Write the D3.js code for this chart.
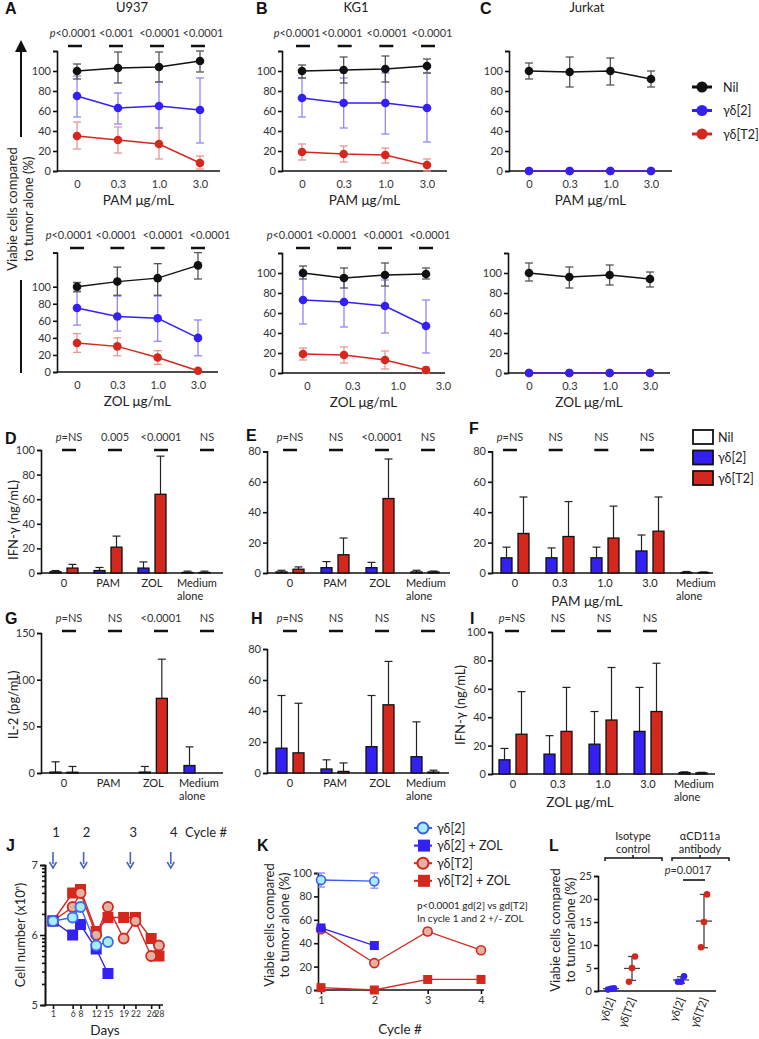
<!DOCTYPE html>
<meta charset="utf-8">
<style>
  body { margin: 0; background: #fff; }
  svg text { font-family: Lato, "Open Sans", sans-serif; fill: #222; }
  .axis text { font-size: 11px; fill: #333; font-family: Lato, "Open Sans", sans-serif; }
  .axis .domain, .axis line { stroke: #111; stroke-width: 1.6; }
  .letter { font-family: "Liberation Sans", Arial, sans-serif; font-weight: bold; font-size: 16px; fill: #111; }
  .title { font-size: 13px; }
  .xtitle { font-size: 13.5px; }
  .ylab { font-size: 13px; }
  .pv { font-size: 11px; fill: #333; }
  .leg { font-size: 12.5px; }
  .jdays text { font-size: 8.5px; }
</style>
<body>
<div id="chart"></div>
</body>
<script src="https://d3js.org/d3.v7.min.js"></script>
<script>
// ---- data ----
const doses = ["0", "0.3", "1.0", "3.0"];
const lineNames = ["Nil", "γδ[2]", "γδ[T2]"];
// [mean, low, high] per dose
const u937PamNil = [[100, 92, 107], [103, 88, 119], [104, 89, 119], [110, 99, 120]];
const u937PamG2 = [[75, 54, 95], [63, 47, 78], [65, 43, 89], [61, 28, 93]];
const u937PamT2 = [[35, 22, 49], [31, 18, 44], [27, 12, 43], [8, 2, 15]];
const kg1PamNil = [[100, 93, 106], [101, 88, 114], [102, 89, 115], [105, 98, 112]];
const kg1PamG2 = [[73, 54, 93], [68, 43, 93], [68, 37, 98], [63, 29, 98]];
const kg1PamT2 = [[19, 11, 27], [17, 9, 25], [16, 8, 23], [6, 0, 12]];
const jurPamNil = [[100, 92, 108], [99, 84, 114], [100, 86, 113], [92, 84, 100]];
const jurPamG2 = [[0, 0, 0], [0, 0, 0], [0, 0, 0], [0, 0, 0]];
const jurPamT2 = [[0, 0, 0], [0, 0, 0], [0, 0, 0], [0, 0, 0]];
const u937ZolNil = [[100, 94, 105], [106, 90, 123], [110, 90, 127], [125, 109, 140]];
const u937ZolG2 = [[75, 55, 95], [65, 48, 89], [63, 36, 89], [40, 19, 61]];
const u937ZolT2 = [[34, 23, 45], [30, 19, 40], [17, 9, 25], [1.5, 1.5, 1.5]];
const kg1ZolNil = [[100, 94, 107], [95, 85, 105], [98, 87, 110], [99, 94, 105]];
const kg1ZolG2 = [[73, 49, 97], [71, 46, 97], [67, 40, 93], [47, 20, 73]];
const kg1ZolT2 = [[19, 13, 25], [18, 10, 26], [13, 4, 22], [3, 0, 6]];
const jurZolNil = [[100, 92, 110], [96, 85, 106], [98, 88, 108], [94, 86, 101]];
const jurZolG2 = [[0, 0, 0], [0, 0, 0], [0, 0, 0], [0, 0, 0]];
const jurZolT2 = [[0, 0, 0], [0, 0, 0], [0, 0, 0], [0, 0, 0]];
const pvU937Pam = ["p<0.0001", "<0.001", "<0.0001", "<0.0001"];
const pvKg1Pam = ["p<0.0001", "<0.0001", "<0.0001", "<0.0001"];
const pvU937Zol = ["p<0.0001", "<0.0001", "<0.0001", "<0.0001"];
const pvKg1Zol = ["p<0.0001", "<0.0001", "<0.0001", "<0.0001"];

const barNames = ["Nil", "γδ[2]", "γδ[T2]"];
const stimCats = ["0", "PAM", "ZOL", "Medium alone"];
const doseCats = ["0", "0.3", "1.0", "3.0", "Medium alone"];
// bar means and top of the error bar
const dG2 = [1, 2, 4, 0.4], dG2Err = [2, 4.5, 9, 1.5];
const dT2 = [4, 21, 64, 0.4], dT2Err = [7, 30, 95, 1.5];
const eG2 = [0.7, 3.5, 3.5, 0.7], eG2Err = [1.8, 7.5, 7, 1.8];
const eT2 = [2.5, 12, 49, 0.7], eT2Err = [4, 23, 75, 1.3];
const fG2 = [10, 10, 10, 14.5, 0.3], fG2Err = [17, 16.5, 17, 25, 1];
const fT2 = [26, 24, 23, 27.5, 0.3], fT2Err = [50, 47, 44, 50, 0.7];
const gG2 = [1, 0, 1, 8], gG2Err = [12, 0, 7, 28];
const gT2 = [0.8, 0, 80, 0], gT2Err = [7, 0, 122, 0];
const hG2 = [16, 2.6, 17, 10.5], hG2Err = [50, 8.5, 50, 33];
const hT2 = [13, 1, 44, 0.6], hT2Err = [45, 6.5, 72, 1.8];
const iG2 = [10, 14, 21, 30, 1], iG2Err = [18, 27, 44, 61, 1.5];
const iT2 = [28, 30, 38, 44, 0.8], iT2Err = [58, 61, 75, 78, 1.2];
const pvD = ["p=NS", "0.005", "<0.0001", "NS"];
const pvE = ["p=NS", "NS", "<0.0001", "NS"];
const pvF = ["p=NS", "NS", "NS", "NS"];
const pvG = ["p=NS", "NS", "<0.0001", "NS"];
const pvH = ["p=NS", "NS", "NS", "NS"];
const pvI = ["p=NS", "NS", "NS", "NS"];

// J: cell number exponent per day
const jDays = [1, 6, 8, 12, 15, 19, 22, 26, 28];
const jG2 = [6.2, 6.25, 6.4, 5.85, 5.9];
const jG2Zol = [6.2, 6.0, 6.15, 5.8, 5.45];
const jT2 = [6.2, 6.4, 6.6, 6.0, 6.4, 5.95, 6.2, 5.7, 5.85];
const jT2Zol = [6.2, 6.6, 6.65, 6.05, 6.25, 6.25, 6.25, 5.95, 5.7];
const cycleLabels = ["1", "2", "3", "4"];
const cycleDays = [1, 8.8, 20.7, 31];

// K: viability per cycle, [mean, low, high]
const cycles = [1, 2, 3, 4];
const kNames = ["γδ[2]", "γδ[2] + ZOL", "γδ[T2]", "γδ[T2] + ZOL"];
const kG2 = [[94, 88, 100], [93, 87, 100]];
const kG2Zol = [[53, 50, 56], [38, 35, 41]];
const kT2 = [[52, 50, 54], [23, 23, 23], [50, 47, 53], [34, 34, 34]];
const kT2Zol = [[2, 2, 2], [0, 0, 0], [9, 9, 9], [9, 9, 9]];

// L: individual points, mean, sd
const lLabels = ["γδ[2]", "γδ[T2]", "γδ[2]", "γδ[T2]"];
const lPoints = [[0.3, 0.5, 0.6], [2, 5, 7.5], [2, 2, 3.2], [9.5, 15, 21]];
const lMean = [0.5, 4.9, 2.4, 15.2];
const lSd = [0.15, 2.6, 0.7, 5.8];

// ---- styles ----
const BLUE = "#3320f2", RED = "#d4281e", BLACK = "#111";
const BLUE_ERR = "#8f88f6", RED_ERR = "#e69590", BLACK_ERR = "#555";
const CYAN = "#a8ecfa", TAN = "#e3b2a2";

const svg = d3.select("#chart").append("svg").attr("width", 759).attr("height", 1039);

function letter(t, x, y) {
  svg.append("text").attr("class", "letter").attr("x", x).attr("y", y).text(t);
}

function pText(sel, s) {
  if (s.startsWith("p")) {
    sel.append("tspan").style("font-style", "italic").text("p");
    sel.append("tspan").text(s.slice(1));
  } else sel.text(s);
}

function errBar(g, x, yLo, yHi, color, w) {
  g.append("line").attr("x1", x).attr("x2", x).attr("y1", yLo).attr("y2", yHi)
    .attr("stroke", color).attr("stroke-width", 1.3);
  [yLo, yHi].forEach(v => g.append("line").attr("x1", x - w / 2).attr("x2", x + w / 2)
    .attr("y1", v).attr("y2", v).attr("stroke", color).attr("stroke-width", 1.3));
}

function linePanel(o) {
  const g = svg.append("g");
  const y = d3.scaleLinear().domain([0, o.ymax]).range([o.y0, o.y0 - o.ymax * o.k]);
  const x = d3.scalePoint().domain(doses).range(o.pts);
  const xl = d3.scalePoint().domain(doses).range(o.labPts || o.pts);
  g.append("g").attr("class", "axis").attr("transform", `translate(${o.ax},0)`)
    .call(d3.axisLeft(y).tickValues([0, 20, 40, 60, 80, 100, o.ymax]).tickSize(4).tickPadding(2)
      .tickFormat(d => d > 100 ? "" : d));
  g.append("g").attr("class", "axis").attr("transform", `translate(0,${o.y0})`)
    .call(d3.axisBottom(xl).tickSize(0).tickPadding(9))
    .call(a => a.select(".domain").attr("d", `M${o.ax},0H${o.ax1}`));
  g.append("text").attr("class", "xtitle").attr("text-anchor", "middle")
    .attr("x", (o.ax + o.ax1) / 2).attr("y", o.y0 + 34).text(o.xtitle);
  if (o.title) g.append("text").attr("class", "title").attr("text-anchor", "middle")
    .attr("x", o.titleX).attr("y", 12).text(o.title);

  const cols = [[BLACK, BLACK_ERR], [BLUE, BLUE_ERR], [RED, RED_ERR]];
  [2, 1, 0].forEach(si => {
    const d = o.series[si], c = cols[si];
    d.forEach((p, i) => { if (p[2] > p[1]) errBar(g, x(doses[i]), y(p[1]), y(p[2]), c[1], 8); });
    g.append("path").datum(d).attr("fill", "none").attr("stroke", c[0]).attr("stroke-width", 1.4)
      .attr("d", d3.line().x((p, i) => x(doses[i])).y(p => y(p[0])));
    g.selectAll(null).data(d).join("circle").attr("cx", (p, i) => x(doses[i])).attr("cy", p => y(p[0]))
      .attr("r", 4.3).attr("fill", c[0]);
  });

  if (o.pv) {
    const pt = d3.scalePoint().domain(doses).range(o.pvText);
    o.pv.forEach((s, i) => {
      pText(g.append("text").attr("class", "pv").attr("text-anchor", "middle")
        .attr("x", pt(doses[i])).attr("y", o.pvY), s);
      const bx = x(doses[i]) + (o.pvShift || 0);
      g.append("line").attr("x1", bx - 7).attr("x2", bx + 7).attr("y1", o.pvY + 9).attr("y2", o.pvY + 9)
        .attr("stroke", "#111").attr("stroke-width", 2.5);
    });
  }
}

linePanel({ ax: 57, ax1: 220, y0: 171, ymax: 120, k: 1, pts: [77, 200], xtitle: "PAM μg/mL",
  title: "U937", titleX: 132, series: [u937PamNil, u937PamG2, u937PamT2], pv: pvU937Pam, pvText: [73, 203], pvY: 37, pvShift: -2 });
linePanel({ ax: 282, ax1: 447, y0: 171, ymax: 120, k: 1, pts: [302, 427], xtitle: "PAM μg/mL",
  title: "KG1", titleX: 356, series: [kg1PamNil, kg1PamG2, kg1PamT2], pv: pvKg1Pam, pvText: [297, 432], pvY: 37, pvShift: 1 });
linePanel({ ax: 509, ax1: 672, y0: 171, ymax: 120, k: 1, pts: [529, 651], xtitle: "PAM μg/mL",
  title: "Jurkat", titleX: 587, series: [jurPamNil, jurPamG2, jurPamT2] });
linePanel({ ax: 57, ax1: 218, y0: 372, ymax: 140, k: 0.853, pts: [77, 198], xtitle: "ZOL μg/mL",
  series: [u937ZolNil, u937ZolG2, u937ZolT2], pv: pvU937Zol, pvText: [69, 210], pvY: 239 });
linePanel({ ax: 282, ax1: 445, y0: 373, ymax: 120, k: 1, pts: [303, 426], labPts: [307, 443], xtitle: "ZOL μg/mL",
  series: [kg1ZolNil, kg1ZolG2, kg1ZolT2], pv: pvKg1Zol, pvText: [290, 430], pvY: 239 });
linePanel({ ax: 508, ax1: 670, y0: 373, ymax: 120, k: 1, pts: [529, 650], xtitle: "ZOL μg/mL",
  series: [jurZolNil, jurZolG2, jurZolT2] });

letter("A", 5, 14); letter("B", 256, 14); letter("C", 480, 14);

// shared y label for A–C
const yl = svg.append("g");
yl.append("text").attr("class", "ylab").attr("text-anchor", "middle")
  .attr("transform", "translate(17,209) rotate(-90)").text("Viabie cells compared");
yl.append("text").attr("class", "ylab").attr("text-anchor", "middle")
  .attr("transform", "translate(33,209) rotate(-90)").text("to tumor alone (%)");
svg.append("defs").append("marker").attr("id", "arr").attr("viewBox", "0 0 10 10").attr("refX", 5).attr("refY", 5)
  .attr("markerWidth", 6).attr("markerHeight", 6).attr("orient", "auto")
  .append("path").attr("d", "M0,0L10,5L0,10z").attr("fill", "#111");
yl.append("line").attr("x1", 21).attr("x2", 21).attr("y1", 137).attr("y2", 46)
  .attr("stroke", "#111").attr("stroke-width", 2).attr("marker-end", "url(#arr)");
yl.append("line").attr("x1", 21).attr("x2", 21).attr("y1", 280).attr("y2", 373)
  .attr("stroke", "#111").attr("stroke-width", 2);

// legend A–C
const leg1 = svg.append("g");
lineNames.forEach((n, i) => {
  const c = [BLACK, BLUE, RED][i], yy = 87 + i * 23.5;
  leg1.append("line").attr("x1", 692).attr("x2", 712).attr("y1", yy).attr("y2", yy).attr("stroke", c).attr("stroke-width", 3);
  leg1.append("circle").attr("cx", 702).attr("cy", yy).attr("r", 5.5).attr("fill", c);
  leg1.append("text").attr("class", "leg").attr("x", 723).attr("y", yy + 4.5).text(n);
});

function barPanel(o) {
  const g = svg.append("g");
  const y = d3.scaleLinear().domain([0, o.ymax]).range([o.y0, o.y0 - o.ymax * o.k]);
  const x = d3.scalePoint().domain(o.cats).range(o.groups);
  const pvx = d3.scalePoint().domain(d3.range(o.pv.length)).range(o.pvRange);
  g.append("g").attr("class", "axis").attr("transform", `translate(${o.ax},0)`)
    .call(d3.axisLeft(y).tickValues(o.ticks).tickSize(4).tickPadding(2))
    .call(a => a.select(".domain").attr("stroke-width", 2));
  g.append("g").attr("class", "axis").attr("transform", `translate(0,${o.y0})`)
    .call(d3.axisBottom(x).tickSize(0).tickFormat(""))
    .call(a => a.select(".domain").attr("d", `M${o.ax},0H${o.ax1}`).attr("stroke-width", 2));
  o.cats.forEach(c => {
    if (c === "Medium alone") {
      ["Medium", "alone"].forEach((w, j) => g.append("text").attr("font-size", 11)
        .attr("fill", "#333").attr("x", x(c) - 19).attr("y", o.y0 + 14 + j * 13).text(w));
    } else {
      g.append("text").attr("font-size", 11).attr("fill", "#333").attr("text-anchor", "middle")
        .attr("x", x(c)).attr("y", o.y0 + 14).text(c);
    }
  });
  const bw = 11;
  [[o.g2, o.g2Err, BLUE, -8.5], [o.t2, o.t2Err, RED, 8.5]].forEach(([vals, errs, col, off]) => {
    o.cats.forEach((c, i) => {
      if (vals[i] <= 0 && errs[i] <= 0) return;
      const cx = x(c) + off;
      if (errs[i] > vals[i]) {
        g.append("line").attr("x1", cx).attr("x2", cx).attr("y1", y(vals[i])).attr("y2", y(errs[i]))
          .attr("stroke", "#222").attr("stroke-width", 1.2);
        g.append("line").attr("x1", cx - 4).attr("x2", cx + 4).attr("y1", y(errs[i])).attr("y2", y(errs[i]))
          .attr("stroke", "#222").attr("stroke-width", 1.2);
      }
      g.append("rect").attr("x", cx - bw / 2).attr("width", bw).attr("y", y(vals[i]))
        .attr("height", Math.max(0.5, y(0) - y(vals[i]))).attr("fill", col)
        .attr("stroke", "#111").attr("stroke-width", 1.3);
    });
  });
  o.pv.forEach((s, i) => {
    pText(g.append("text").attr("class", "pv").attr("font-size", 11.5).attr("text-anchor", "middle")
      .attr("x", pvx(i)).attr("y", o.pvY), s);
    g.append("line").attr("x1", pvx(i) - 7).attr("x2", pvx(i) + 7).attr("y1", o.pvY + 9).attr("y2", o.pvY + 9)
      .attr("stroke", "#111").attr("stroke-width", 2.5);
  });
  if (o.xtitle) g.append("text").attr("class", "xtitle").attr("text-anchor", "middle")
    .attr("x", o.xtitleX).attr("y", o.y0 + 33).text(o.xtitle);
  if (o.ylab) g.append("text").attr("class", "ylab").attr("text-anchor", "middle")
    .attr("transform", `translate(${o.ylabX},${o.ylabY}) rotate(-90)`).text(o.ylab);
}

barPanel({ ax: 41, ax1: 223, y0: 573, ymax: 100, k: 1.23, ticks: [0, 20, 40, 60, 80, 100], cats: stimCats,
  groups: [64, 196], g2: dG2, g2Err: dG2Err, t2: dT2, t2Err: dT2Err, pv: pvD, pvRange: [69, 207], pvY: 441,
  ylab: "IFN-γ (ng/mL)", ylabX: 18, ylabY: 520 });
barPanel({ ax: 267, ax1: 450, y0: 573, ymax: 80, k: 1.52, ticks: [0, 20, 40, 60, 80], cats: stimCats,
  groups: [290, 425], g2: eG2, g2Err: eG2Err, t2: eT2, t2Err: eT2Err, pv: pvE, pvRange: [290, 428], pvY: 441 });
barPanel({ ax: 492, ax1: 713, y0: 573, ymax: 80, k: 1.52, ticks: [0, 20, 40, 60, 80], cats: doseCats,
  groups: [515, 695], g2: fG2, g2Err: fG2Err, t2: fT2, t2Err: fT2Err, pv: pvF, pvRange: [510, 647], pvY: 441,
  xtitle: "PAM μg/mL", xtitleX: 587 });
barPanel({ ax: 41, ax1: 223, y0: 773, ymax: 150, k: 0.933, ticks: [0, 50, 100, 150], cats: stimCats,
  groups: [64, 198], g2: gG2, g2Err: gG2Err, t2: gT2, t2Err: gT2Err, pv: pvG, pvRange: [69, 207], pvY: 622,
  ylab: "IL-2 (pg/mL)", ylabX: 18, ylabY: 705 });
barPanel({ ax: 267, ax1: 449, y0: 773, ymax: 80, k: 1.55, ticks: [0, 20, 40, 60, 80], cats: stimCats,
  groups: [290, 425], g2: hG2, g2Err: hG2Err, t2: hT2, t2Err: hT2Err, pv: pvH, pvRange: [290, 428], pvY: 622 });
barPanel({ ax: 492, ax1: 715, y0: 774, ymax: 100, k: 1.42, ticks: [0, 20, 40, 60, 80, 100], cats: doseCats,
  groups: [513, 693], g2: iG2, g2Err: iG2Err, t2: iT2, t2Err: iT2Err, pv: pvI, pvRange: [512, 650], pvY: 622,
  xtitle: "ZOL μg/mL", xtitleX: 580, ylab: "IFN-γ (ng/mL)", ylabX: 465, ylabY: 705 });

letter("D", 5, 444); letter("E", 246, 441); letter("F", 469, 434);
letter("G", 5, 624); letter("H", 251, 624); letter("I", 470, 624);

// legend D–I
const leg2 = svg.append("g");
barNames.forEach((n, i) => {
  const yy = 437 + i * 20.5;
  leg2.append("rect").attr("x", 693).attr("y", yy - 7).attr("width", 20).attr("height", 14)
    .attr("fill", ["#fff", BLUE, RED][i]).attr("stroke", "#111").attr("stroke-width", 1.8);
  leg2.append("text").attr("class", "leg").attr("x", 718).attr("y", yy + 4.5).text(n);
});

// ---- J ----
const jg = svg.append("g");
const jx = d3.scaleLinear().domain([1, 28]).range([53, 159]);
const jy = d3.scaleLinear().domain([5, 7]).range([1005, 865]);
const jMinor = [5, 6].flatMap(e => d3.range(2, 10).map(k => e + Math.log10(k)));
jg.append("g").attr("class", "axis").attr("transform", "translate(45,0)")
  .call(d3.axisLeft(jy).tickValues(jMinor).tickSize(3).tickFormat(""));
jg.append("g").attr("class", "axis").attr("transform", "translate(45,0)")
  .call(d3.axisLeft(jy).tickValues([5, 6, 7]).tickSize(5).tickPadding(2).tickFormat(d3.format("d")));
jg.append("g").attr("class", "axis jdays").attr("transform", "translate(0,1005)")
  .call(d3.axisBottom(jx).tickValues(jDays).tickSize(4).tickPadding(2))
  .call(a => a.select(".domain").attr("d", "M45,0H163"));
jg.append("text").attr("class", "xtitle").attr("text-anchor", "middle").attr("x", 105).attr("y", 1035).text("Days");
jg.append("text").attr("class", "ylab").attr("text-anchor", "middle")
  .attr("transform", "translate(25,935) rotate(-90)").text("Cell number (x10ⁿ)");
cycleLabels.forEach((c, i) => {
  const cx = jx(cycleDays[i]);
  jg.append("text").attr("font-size", 13).attr("text-anchor", "middle").attr("x", cx + 3).attr("y", 837).text(c);
  jg.append("line").attr("x1", cx).attr("x2", cx).attr("y1", 852).attr("y2", 864)
    .attr("stroke", "#4a62c6").attr("stroke-width", 1.6);
  jg.append("path").attr("d", `M${cx - 3.5},${862}L${cx},${868}L${cx + 3.5},${862}`)
    .attr("fill", "none").attr("stroke", "#4a62c6").attr("stroke-width", 1.6);
});
jg.append("text").attr("font-size", 13).attr("x", 185).attr("y", 837).text("Cycle #");

const jSeries = [
  [jT2Zol, RED, RED, "sq"], [jT2, RED, TAN, "ci"], [jG2Zol, BLUE, BLUE, "sq"], [jG2, "#3a6cf2", CYAN, "ci"]
];
jSeries.forEach(([vals, stroke, fill, shape]) => {
  jg.append("path").datum(vals).attr("fill", "none").attr("stroke", stroke).attr("stroke-width", 1.4)
    .attr("d", d3.line().x((v, i) => jx(jDays[i])).y(v => jy(v)));
  vals.forEach((v, i) => {
    if (shape === "sq") jg.append("rect").attr("x", jx(jDays[i]) - 5.5).attr("y", jy(v) - 5.5)
      .attr("width", 11).attr("height", 11).attr("fill", fill);
    else jg.append("circle").attr("cx", jx(jDays[i])).attr("cy", jy(v)).attr("r", 5)
      .attr("fill", fill).attr("stroke", stroke).attr("stroke-width", 1.8);
  });
});
letter("J", 6, 851);

// ---- K ----
const kg = svg.append("g");
const kx = d3.scaleLinear().domain([1, 4]).range([321, 481]);
const ky = d3.scaleLinear().domain([0, 100]).range([990, 873]);
kg.append("g").attr("class", "axis").attr("transform", "translate(318,0)")
  .call(d3.axisLeft(ky).tickValues([0, 20, 40, 60, 80, 100]).tickSize(4).tickPadding(2));
kg.append("g").attr("class", "axis").attr("transform", "translate(0,990)")
  .call(d3.axisBottom(kx).tickValues(cycles).tickSize(4).tickPadding(2).tickFormat(d3.format("d")))
  .call(a => a.select(".domain").attr("d", "M318,0H484"));
kg.append("text").attr("class", "xtitle").attr("text-anchor", "middle").attr("x", 400).attr("y", 1034).text("Cycle #");
kg.append("text").attr("class", "ylab").attr("text-anchor", "middle")
  .attr("transform", "translate(274,925) rotate(-90)").text("Viabie cells compared");
kg.append("text").attr("class", "ylab").attr("text-anchor", "middle")
  .attr("transform", "translate(289,925) rotate(-90)").text("to tumor alone (%)");
const kSeries = [
  [kT2Zol, RED, RED, RED_ERR, "sq"], [kT2, RED, TAN, RED_ERR, "ci"],
  [kG2Zol, BLUE, BLUE, BLUE_ERR, "sq"], [kG2, "#3a5cf2", CYAN, BLUE_ERR, "ci"]
];
kSeries.forEach(([vals, stroke, fill, ec, shape]) => {
  vals.forEach((p, i) => { if (p[2] > p[1]) errBar(kg, kx(cycles[i]), ky(p[1]), ky(p[2]), ec, 8); });
  kg.append("path").datum(vals).attr("fill", "none").attr("stroke", stroke).attr("stroke-width", 1.3)
    .attr("d", d3.line().x((p, i) => kx(cycles[i])).y(p => ky(p[0])));
  vals.forEach((p, i) => {
    if (shape === "sq") kg.append("rect").attr("x", kx(cycles[i]) - 4.5).attr("y", ky(p[0]) - 4.5)
      .attr("width", 9).attr("height", 9).attr("fill", fill);
    else kg.append("circle").attr("cx", kx(cycles[i])).attr("cy", ky(p[0])).attr("r", 4.5)
      .attr("fill", fill).attr("stroke", stroke).attr("stroke-width", 1.6);
  });
});
kNames.forEach((n, i) => {
  const yy = 828 + i * 17.6, st = [["#3a5cf2", CYAN, "ci"], [BLUE, BLUE, "sq"], [RED, TAN, "ci"], [RED, RED, "sq"]][i];
  kg.append("line").attr("x1", 414).attr("x2", 432).attr("y1", yy).attr("y2", yy).attr("stroke", st[0]).attr("stroke-width", 2);
  if (st[2] === "sq") kg.append("rect").attr("x", 418).attr("y", yy - 6).attr("width", 12).attr("height", 12).attr("fill", st[1]);
  else kg.append("circle").attr("cx", 423).attr("cy", yy).attr("r", 5.5).attr("fill", st[1]).attr("stroke", st[0]).attr("stroke-width", 2);
  kg.append("text").attr("class", "leg").attr("x", 437).attr("y", yy + 4.5).text(n);
});
kg.append("text").attr("font-size", 10).attr("x", 417).attr("y", 909).text("p<0.0001 gd[2] vs gd[T2]");
kg.append("text").attr("font-size", 10).attr("x", 417).attr("y", 922).text("In cycle 1 and 2 +/- ZOL");
letter("K", 257, 851);

// ---- L ----
const lg = svg.append("g");
const lx = d3.scaleOrdinal().domain(d3.range(4)).range([611, 632, 681, 704]);
const ly = d3.scaleLinear().domain([0, 25]).range([991, 876]);
lg.append("g").attr("class", "axis").attr("transform", "translate(598,0)")
  .call(d3.axisLeft(ly).tickValues([0, 5, 10, 15, 20, 25]).tickSize(4).tickPadding(2));
lg.append("line").attr("x1", 598).attr("x2", 716).attr("y1", 991).attr("y2", 991).attr("stroke", "#111").attr("stroke-width", 1.6);
lLabels.forEach((t, i) => {
  const cx = lx(i);
  lg.append("text").attr("font-size", 11).attr("text-anchor", "end")
    .attr("transform", `translate(${cx + 4},${999}) rotate(-70)`).text(t);
  errBar(lg, cx, ly(lMean[i] - lSd[i]), ly(lMean[i] + lSd[i]), "#444", 8);
  lg.append("line").attr("x1", cx - 8).attr("x2", cx + 8).attr("y1", ly(lMean[i])).attr("y2", ly(lMean[i]))
    .attr("stroke", "#444").attr("stroke-width", 1.3);
  lPoints[i].forEach((v, j) => lg.append("circle").attr("cx", cx + (j - 1) * 3).attr("cy", ly(v)).attr("r", 3.3)
    .attr("fill", i % 2 ? RED : BLUE));
});
[["Isotype", "control", 633, 605, 662], ["αCD11a", "antibody", 700, 672, 729]].forEach(([a, b, cx, x1, x2]) => {
  lg.append("text").attr("font-size", 11).attr("text-anchor", "middle").attr("x", cx).attr("y", 840).text(a);
  lg.append("text").attr("font-size", 11).attr("text-anchor", "middle").attr("x", cx).attr("y", 853).text(b);
  lg.append("path").attr("d", `M${x1},861V858H${x2}V861M${cx},858V855`).attr("fill", "none")
    .attr("stroke", "#111").attr("stroke-width", 1.5);
});
pText(lg.append("text").attr("class", "pv").attr("font-size", 11.5).attr("text-anchor", "middle").attr("x", 688).attr("y", 874), "p=0.0017");
lg.append("line").attr("x1", lx(2) + 2).attr("x2", lx(3) + 1).attr("y1", 880).attr("y2", 880)
  .attr("stroke", "#111").attr("stroke-width", 1.6);
lg.append("text").attr("class", "ylab").attr("text-anchor", "middle")
  .attr("transform", "translate(560,930) rotate(-90)").text("Viabie cells compared");
lg.append("text").attr("class", "ylab").attr("text-anchor", "middle")
  .attr("transform", "translate(575,930) rotate(-90)").text("to tumor alone (%)");
letter("L", 549, 851);
</script>
